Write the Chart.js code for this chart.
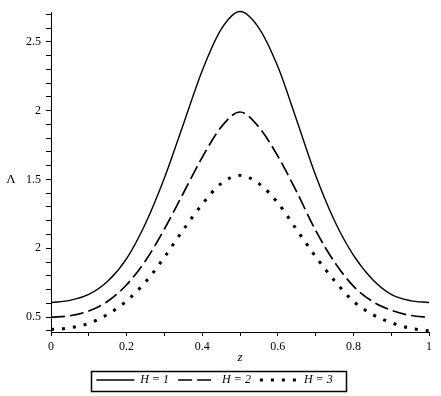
<!DOCTYPE html>
<html>
<head>
<meta charset="utf-8">
<script src="https://cdn.jsdelivr.net/npm/chart.js@4.4.1/dist/chart.umd.min.js"></script>
<style>
  html, body { margin: 0; padding: 0; background: #fff; }
</style>
</head>
<body>
<canvas id="myChart" width="441" height="396"></canvas>
<script>
// values, z = 0 ... 1 in steps of 0.05
const zValues = [0, 0.05, 0.1, 0.15, 0.2, 0.25, 0.3, 0.35, 0.4, 0.45, 0.5,
                 0.55, 0.6, 0.65, 0.7, 0.75, 0.8, 0.85, 0.9, 0.95, 1];
const lambdaH1 = [0.606, 0.622, 0.665, 0.76, 0.925, 1.18, 1.51, 1.9, 2.29, 2.59, 2.72,
                  2.6, 2.32, 1.93, 1.53, 1.2, 0.95, 0.775, 0.665, 0.62, 0.606];
const lambdaH2 = [0.5, 0.51, 0.545, 0.615, 0.735, 0.91, 1.14, 1.4, 1.66, 1.88, 1.99,
                  1.88, 1.67, 1.41, 1.13, 0.9, 0.725, 0.615, 0.55, 0.513, 0.498];
const lambdaH3 = [0.41, 0.423, 0.455, 0.52, 0.618, 0.755, 0.935, 1.135, 1.32, 1.47, 1.53,
                  1.47, 1.33, 1.135, 0.94, 0.765, 0.615, 0.52, 0.46, 0.42, 0.4];
const seriesNames = ["H = 1", "H = 2", "H = 3"];

const xTickValues = [0, 0.1, 0.2, 0.3, 0.4, 0.5, 0.6, 0.7, 0.8, 0.9, 1];
const xLabelValues = [0, 0.2, 0.4, 0.6, 0.8, 1];
const xLabelTexts = ["0", "0.2", "0.4", "0.6", "0.8", "1"];
const yTickValues = [0.4, 0.5, 0.6, 0.7, 0.8, 0.9, 1, 1.1, 1.2, 1.3, 1.4, 1.5, 1.6, 1.7,
                     1.8, 1.9, 2, 2.1, 2.2, 2.3, 2.4, 2.5, 2.6, 2.7];
const yLabelValues = [0.5, 1, 1.5, 2, 2.5];
const yLabelTexts = ["0.5", "2", "1.5", "2", "2.5"]; // as printed in the original
const xTitle = "z";
const yTitle = "Λ";

Chart.defaults.font.family = '"Liberation Serif", "Times New Roman", serif';
Chart.defaults.color = "#000";

function labelFor(value, values, texts) {
  const i = values.findIndex((v) => Math.abs(v - value) < 1e-6);
  return i < 0 ? "" : texts[i];
}

function toPoints(ys) {
  return zValues.map((z, i) => ({ x: z, y: ys[i] }));
}

// horizontal y title and the frame round the legend
const extras = {
  id: "extras",
  afterDraw(chart) {
    const ctx = chart.ctx;
    const yScale = chart.scales.y;
    ctx.save();
    ctx.fillStyle = "#000";
    ctx.font = '13px "Liberation Serif", serif';
    ctx.textAlign = "center";
    ctx.textBaseline = "middle";
    ctx.fillText(yTitle, 11, yScale.getPixelForValue(1.5));

    const boxes = chart.legend.legendHitBoxes;
    if (boxes && boxes.length) {
      const first = boxes[0];
      const last = boxes[boxes.length - 1];
      ctx.strokeStyle = "#000";
      ctx.lineWidth = 1.5;
      ctx.strokeRect(
        Math.round(first.left - 5) + 0.5,
        Math.round(first.top - 3) + 0.5,
        Math.round(last.left + last.width - first.left + 19),
        Math.round(first.height + 8)
      );
    }
    ctx.restore();
  },
};

const ctx = document.getElementById("myChart").getContext("2d");

new Chart(ctx, {
  type: "line",
  data: {
    datasets: [
      {
        label: seriesNames[0],
        data: toPoints(lambdaH1),
        borderColor: "#000",
        borderWidth: 1.4,
      },
      {
        label: seriesNames[1],
        data: toPoints(lambdaH2),
        borderColor: "#000",
        borderWidth: 1.7,
        borderDash: [14, 5],
      },
      {
        label: seriesNames[2],
        data: toPoints(lambdaH3),
        borderColor: "#000",
        borderWidth: 3,
        borderDash: [3, 8],
      },
    ],
  },
  options: {
    responsive: false,
    animation: false,
    clip: false,
    elements: {
      point: { radius: 0 },
      line: { cubicInterpolationMode: "monotone", fill: false },
    },
    layout: { padding: { top: 11, right: 12, left: 0, bottom: 0 } },
    plugins: {
      tooltip: { enabled: false },
      legend: {
        position: "bottom",
        labels: {
          usePointStyle: true,
          pointStyle: "line",
          pointStyleWidth: 38,
          padding: 9,
          color: "#000",
          font: { size: 12, style: "italic" },
          generateLabels: (chart) => {
            const items = Chart.defaults.plugins.legend.labels.generateLabels(chart);
            items.forEach((item) => {
              const ds = chart.data.datasets[item.datasetIndex];
              item.lineDash = ds.borderDash || [];
              item.lineWidth = ds.borderWidth;
              item.strokeStyle = "#000";
              item.lineCap = "butt";
            });
            return items;
          },
        },
      },
    },
    scales: {
      x: {
        type: "linear",
        min: 0,
        max: 1,
        afterBuildTicks: (scale) => {
          scale.ticks = xTickValues.map((v) => ({ value: v }));
        },
        afterFit: (scale) => {
          scale.height = 33;
        },
        ticks: {
          autoSkip: false,
          maxRotation: 0,
          padding: 4,
          font: { size: 12 },
          callback: (value) => labelFor(value, xLabelValues, xLabelTexts),
        },
        grid: {
          drawOnChartArea: false,
          drawTicks: true,
          tickLength: 4,
          tickColor: "#000",
        },
        border: { display: true, color: "#000", width: 1 },
        title: {
          display: true,
          text: xTitle,
          font: { size: 13, style: "italic" },
          padding: { top: 0, bottom: 0 },
        },
      },
      y: {
        type: "linear",
        min: 0.392,
        max: 2.715,
        afterBuildTicks: (scale) => {
          scale.ticks = yTickValues.map((v) => ({ value: v }));
        },
        afterFit: (scale) => {
          scale.width = 51;
        },
        ticks: {
          autoSkip: false,
          padding: 5,
          font: { size: 12 },
          callback: (value) => labelFor(value, yLabelValues, yLabelTexts),
        },
        grid: {
          drawOnChartArea: false,
          drawTicks: true,
          tickLength: 5,
          tickColor: "#000",
        },
        border: { display: true, color: "#000", width: 1 },
      },
    },
  },
  plugins: [extras],
});
</script>
</body>
</html>
